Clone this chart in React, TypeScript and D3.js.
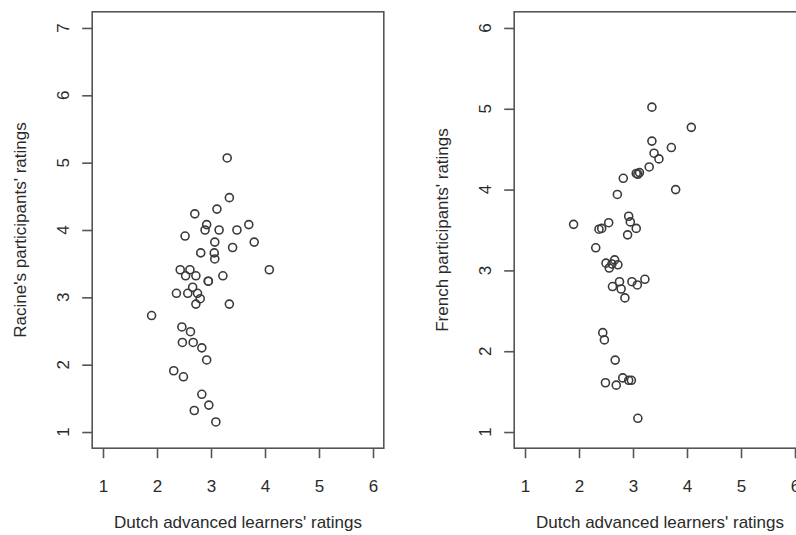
import React, { useEffect, useRef } from 'react';
import * as d3 from 'd3';

// Dutch learners' ratings (x) against Racine's participants (left panel)
const dutchLeft = [
  3.30, 3.34, 3.11, 2.70, 2.92, 2.89, 3.15, 3.48, 3.70, 2.52,
  3.07, 3.80, 2.81, 3.06, 3.40, 3.07, 4.08, 2.43, 2.61, 2.53,
  2.72, 3.22, 2.95, 2.95, 2.66, 2.36, 2.57, 2.75, 2.80, 2.72,
  3.34, 1.90, 2.46, 2.62, 2.47, 2.67, 2.83, 2.92, 2.31, 2.49,
  2.83, 2.96, 2.69, 3.09,
];
const racine = [
  5.07, 4.48, 4.31, 4.24, 4.08, 4.00, 4.00, 4.00, 4.08, 3.91,
  3.82, 3.82, 3.66, 3.66, 3.74, 3.57, 3.41, 3.41, 3.41, 3.32,
  3.32, 3.32, 3.24, 3.24, 3.15, 3.06, 3.06, 3.06, 2.98, 2.90,
  2.90, 2.73, 2.56, 2.49, 2.33, 2.33, 2.25, 2.07, 1.91, 1.82,
  1.56, 1.40, 1.32, 1.15,
];

// Dutch learners' ratings (x) against French participants (right panel)
const dutchRight = [
  3.35, 4.08, 3.35, 3.71, 3.39, 3.48, 3.30, 3.06, 3.12, 3.09,
  2.82, 3.79, 2.71, 2.92, 2.95, 3.06, 2.90, 1.90, 2.37, 2.42,
  2.55, 2.31, 2.50, 2.66, 2.72, 2.56, 2.61, 2.62, 2.75, 2.78,
  2.85, 2.98, 3.08, 3.22, 2.44, 2.47, 2.67, 2.49, 2.69, 2.81,
  2.92, 2.97, 3.09,
];
const french = [
  5.02, 4.77, 4.60, 4.52, 4.45, 4.38, 4.28, 4.20, 4.21, 4.19,
  4.14, 4.00, 3.94, 3.67, 3.60, 3.52, 3.44, 3.57, 3.51, 3.52,
  3.59, 3.28, 3.09, 3.13, 3.07, 3.03, 3.08, 2.80, 2.86, 2.77,
  2.66, 2.86, 2.82, 2.89, 2.23, 2.14, 1.89, 1.61, 1.58, 1.67,
  1.64, 1.64, 1.17,
];

const xTicks = [1, 2, 3, 4, 5, 6];
const racineTicks = [1, 2, 3, 4, 5, 6, 7];
const frenchTicks = [1, 2, 3, 4, 5, 6];

const xTitle = "Dutch advanced learners' ratings";
const racineTitle = "Racine's participants' ratings";
const frenchTitle = "French participants' ratings";

const width = 796;
const height = 535;
const font = "'Liberation Sans', Arial, Helvetica, sans-serif";
const ink = '#2a2a2a';

// R style: pad the data range by 4% on each side
const pad = (lo, hi) => {
  const d = (hi - lo) * 0.04;
  return [lo - d, hi + d];
};

const drawPanel = (svg, p) => {
  const x = d3.scaleLinear().domain(pad(1, 6)).range([p.left, p.right]);
  const y = d3.scaleLinear().domain(pad(p.yTicks[0], p.yTicks[p.yTicks.length - 1])).range([p.bottom, p.top]);

  const g = svg.append('g');

  g.append('rect')
    .attr('x', p.left)
    .attr('y', p.top)
    .attr('width', p.right - p.left)
    .attr('height', p.bottom - p.top)
    .attr('fill', 'none')
    .attr('stroke', '#555')
    .attr('stroke-width', 1.6);

  const xAxis = g.append('g')
    .attr('transform', `translate(0,${p.bottom})`)
    .call(d3.axisBottom(x).tickValues(xTicks).tickFormat(d3.format('d'))
      .tickSize(10).tickSizeOuter(0).tickPadding(22));
  xAxis.select('.domain').remove();
  xAxis.selectAll('line').attr('stroke', '#555').attr('stroke-width', 1.6);
  xAxis.selectAll('text')
    .attr('fill', ink)
    .attr('font-family', font)
    .attr('font-size', 17);

  const yAxis = g.append('g')
    .attr('transform', `translate(${p.left},0)`)
    .call(d3.axisLeft(y).tickValues(p.yTicks).tickSize(10).tickSizeOuter(0));
  yAxis.select('.domain').remove();
  yAxis.selectAll('line').attr('stroke', '#555').attr('stroke-width', 1.6);
  yAxis.selectAll('text').remove();
  g.selectAll('.ylab')
    .data(p.yTicks)
    .enter().append('text')
    .attr('class', 'ylab')
    .attr('transform', d => `translate(${p.left - 23},${y(d)}) rotate(-90)`)
    .attr('text-anchor', 'middle')
    .attr('fill', ink)
    .attr('font-family', font)
    .attr('font-size', 17)
    .text(d => d);

  g.append('text')
    .attr('x', (p.left + p.right) / 2)
    .attr('y', 528)
    .attr('text-anchor', 'middle')
    .attr('fill', ink)
    .attr('font-family', font)
    .attr('font-size', 17)
    .text(xTitle);

  g.append('text')
    .attr('transform', `translate(${p.left - 66},${(p.top + p.bottom) / 2}) rotate(-90)`)
    .attr('text-anchor', 'middle')
    .attr('fill', ink)
    .attr('font-family', font)
    .attr('font-size', 17)
    .text(p.yTitle);

  g.selectAll('.pt')
    .data(p.xs.map((v, i) => [v, p.ys[i]]))
    .enter().append('circle')
    .attr('class', 'pt')
    .attr('cx', d => x(d[0]))
    .attr('cy', d => y(d[1]))
    .attr('r', 4)
    .attr('fill', 'none')
    .attr('stroke', '#3a3a3a')
    .attr('stroke-width', 1.6);
};

const App = () => {
  const ref = useRef(null);

  useEffect(() => {
    const svg = d3.select(ref.current);
    svg.selectAll('*').remove();

    drawPanel(svg, {
      left: 92.2, right: 383.8, top: 11.8, bottom: 448.2,
      xs: dutchLeft, ys: racine, yTicks: racineTicks, yTitle: racineTitle,
    });
    drawPanel(svg, {
      left: 514.2, right: 805.8, top: 11.8, bottom: 448.2,
      xs: dutchRight, ys: french, yTicks: frenchTicks, yTitle: frenchTitle,
    });
  }, []);

  return (
    <svg
      ref={ref}
      width={width}
      height={height}
      style={{ position: 'absolute', left: 0, top: 0, background: '#fff' }}
    />
  );
};

export default App;
